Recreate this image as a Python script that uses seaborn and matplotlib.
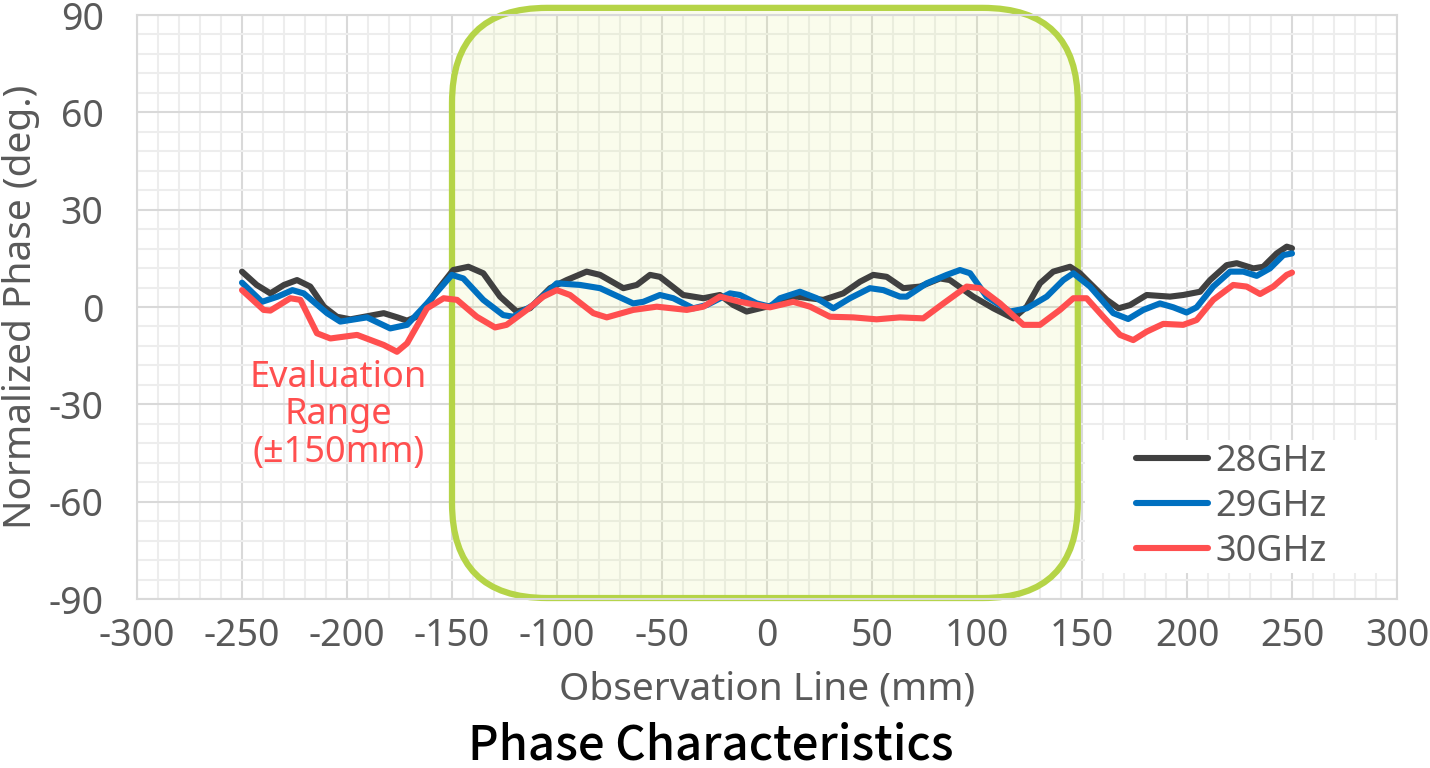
import numpy as np
import pandas as pd
import matplotlib
import matplotlib.pyplot as plt
from matplotlib.patches import FancyBboxPatch, Rectangle
from matplotlib.transforms import IdentityTransform
import seaborn as sns

# values (x in mm, phase in deg.)
x_28 = [-250, -243, -236.5, -230, -223.8, -217.5, -211, -204.8, -198.4, -190, -182.5, -176,
        -171.4, -165, -157, -149.4, -142.2, -135.1, -127.1, -119.2, -112.9, -103.3, -95.4,
        -85.9, -79.5, -68.4, -62, -55.7, -51, -39.9, -30.3, -22.4, -16, -9.7, -3.3, 3, 14.1,
        26.8, 36.3, 44.3, 50.6, 57, 64.9, 72.9, 82.4, 87.1, 98.2, 107.8, 117.3, 123.7, 130,
        136.3, 144.3, 149, 153.8, 161.8, 167.4, 172.9, 180.8, 191.9, 198.2, 206.2, 211, 218.9,
        223.7, 231.6, 236.3, 242.7, 247.5, 250]
y_28 = [10.9, 6.8, 4.2, 6.8, 8.3, 6.3, 0.1, -3.0, -3.8, -2.8, -1.9, -3.2, -4.2, -2.5, 5.2,
        11.4, 12.4, 10.4, 3.2, -1.4, -0.4, 5.8, 8.3, 10.9, 9.9, 5.8, 6.8, 9.9, 9.3, 3.7, 2.7,
        3.7, 0.6, -1.4, -0.4, 0.6, 3.2, 2.2, 4.2, 7.8, 9.9, 9.3, 5.8, 6.3, 8.8, 8.3, 3.2,
        -0.4, -3.5, 0.1, 7.3, 10.9, 12.4, 10.4, 7.3, 2.2, -0.4, 0.6, 3.7, 3.2, 3.7, 4.7, 8.3,
        12.9, 13.5, 11.9, 12.4, 16.5, 18.6, 18.1]

x_29 = [-250, -240.5, -233, -226, -220.6, -209.5, -203.2, -190.5, -179.4, -171.4, -161.9,
        -150.1, -144.6, -135.1, -125.6, -120.8, -111.3, -100.1, -89, -79.5, -63.7, -58.9,
        -51, -44.6, -35.1, -28.7, -17.6, -12.9, -4.9, 1.4, 6.2, 15.7, 23.7, 31.6, 39.5, 49,
        55.4, 63.3, 66.5, 76, 85.6, 91.9, 96.7, 104.6, 115.7, 123.7, 133.2, 141.1, 145.9,
        153.8, 164.9, 172, 179.2, 187.1, 193.5, 199.8, 204.6, 212.5, 220.5, 226.8, 233.2,
        239.5, 245.9, 250]
y_29 = [7.5, 1.6, 3.2, 5.2, 4.2, -1.9, -4.5, -3.2, -6.6, -5.5, 1.1, 9.9, 8.8, 2.2, -2.5,
        -3.0, 0.6, 7.3, 6.8, 5.8, 1.1, 1.6, 3.7, 2.7, -0.4, 0.6, 4.2, 3.7, 1.1, 0.1, 2.7,
        4.7, 2.7, -0.4, 2.7, 5.8, 5.2, 3.2, 3.2, 7.3, 9.9, 11.4, 10.4, 3.2, -1.4, -0.4, 3.2,
        8.3, 10.4, 6.3, -1.9, -3.7, -0.9, 1.1, -0.1, -1.7, -0.1, 6.3, 10.9, 10.9, 9.6, 11.9,
        16.0, 16.5]

x_30 = [-250, -239.7, -236.5, -227, -222.2, -214.3, -207.9, -195.2, -182.5, -176.2, -171.4,
        -161.9, -154, -147.6, -138.2, -129.5, -124, -114.4, -106.5, -100.1, -93.8, -82.7,
        -76.3, -63.7, -52.5, -38.2, -30.3, -22.4, -12.9, 1.4, 12.5, 20.5, 30, 41.1, 52.2,
        63.3, 74.4, 84, 95.1, 101.4, 111, 122.1, 130, 139.5, 145.9, 152.2, 160.1, 168.1,
        174.4, 180.8, 188.7, 198.2, 204.6, 212.5, 222, 228.4, 234.8, 241.1, 247.5, 250]
y_30 = [5.2, -0.9, -1.1, 2.7, 2.2, -8.1, -9.7, -8.6, -11.7, -13.8, -11.2, -0.4, 2.7, 2.2,
        -3.0, -6.3, -5.5, -0.9, 3.2, 5.2, 3.7, -1.9, -3.2, -0.9, 0.1, -0.9, 0.1, 3.2, 1.6,
        -0.1, 1.6, 0.1, -3.0, -3.2, -3.8, -3.2, -3.5, 1.1, 6.3, 5.8, 1.1, -5.5, -5.5, -0.9,
        2.7, 2.7, -3.0, -8.6, -10.2, -7.6, -5.2, -5.5, -4.0, 2.2, 6.8, 6.3, 4.0, 6.3, 9.9,
        10.6]

labels = ["28GHz", "29GHz", "30GHz"]
colors = ["#404040", "#0070c0", "#ff4f4f"]
x_ticks = [-300, -250, -200, -150, -100, -50, 0, 50, 100, 150, 200, 250, 300]
y_ticks = [-90, -60, -30, 0, 30, 60, 90]
eval_range = (-150, 148)

sns.set_style("white")
plt.rcParams["font.family"] = ["Noto Sans", "DejaVu Sans"]
plt.rcParams["axes.unicode_minus"] = False

fig = plt.figure(figsize=(14.3, 7.68), dpi=100)
ax = fig.add_axes([137 / 1430, 1 - 599 / 768, 1260 / 1430, 584 / 768])

ax.set_xlim(-300, 300)
ax.set_ylim(-90, 90)
ax.set_xticks(x_ticks)
ax.set_yticks(y_ticks)
ax.set_xticks(np.arange(-300, 301, 10), minor=True)
ax.set_yticks(np.arange(-90, 91, 6), minor=True)
ax.grid(which="major", color="#d9d9d9", linewidth=1.5, zorder=0)
ax.grid(which="minor", color="#ededed", linewidth=1.5, zorder=0)
ax.set_axisbelow(True)
for s in ax.spines.values():
    s.set_color("#d9d9d9")
    s.set_linewidth(1.5)
ax.tick_params(which="both", length=0)
ax.tick_params(axis="x", labelsize=27, labelcolor="#595959", pad=13)
ax.tick_params(axis="y", labelsize=27, labelcolor="#595959", pad=24)

# evaluation range box (rounded, pixel space so corners stay circular)
(px0, py0), (px1, py1) = ax.transData.transform([(eval_range[0], -89.7), (eval_range[1], 92.2)])
box = FancyBboxPatch((px0, py0), px1 - px0, py1 - py0,
                     boxstyle="round,pad=0,rounding_size=95",
                     transform=IdentityTransform(), facecolor=(0.85, 0.93, 0.45, 0.13),
                     edgecolor="#b5d447", linewidth=4.5, clip_on=False, zorder=1)
ax.add_patch(box)

for xs, ys, lab, col in zip([x_28, x_29, x_30], [y_28, y_29, y_30], labels, colors):
    df = pd.DataFrame({"x": xs, "y": ys})
    sns.lineplot(data=df, x="x", y="y", ax=ax, color=col, linewidth=4.4, label=lab,
                 sort=False, estimator=None, zorder=3, solid_capstyle="round",
                 solid_joinstyle="round")

ax.set_xlabel("Observation Line (mm)", fontsize=28, color="#595959", labelpad=11)
ax.set_ylabel("Normalized Phase (deg.)", fontsize=28, color="#595959", labelpad=6)

# white patch behind the legend
ax.add_patch(Rectangle((0.752, 0.0445), 0.248, 0.2275, transform=ax.transAxes,
                       facecolor="white", edgecolor="none", zorder=2))
leg = ax.legend(loc="center left", bbox_to_anchor=(0.793, 0.158), frameon=False,
                fontsize=26, handlelength=2.0, handletextpad=0.2, labelspacing=0.25,
                borderpad=0, borderaxespad=0)
leg.set_zorder(5)
for t in leg.get_texts():
    t.set_color("#595959")

ax.text(-204, -33.4, "Evaluation\nRange\n(±150mm)", color="#ff4f4f", fontsize=26,
        ha="center", va="center", linespacing=1.05, zorder=4)

fig.text(0.497, 1 - 746 / 768, "Phase Characteristics", fontsize=34, fontweight="medium",
         family=["Noto Sans CJK JP", "DejaVu Sans"], color="black", ha="center", va="center")

fig.savefig("out.png", dpi=100)
